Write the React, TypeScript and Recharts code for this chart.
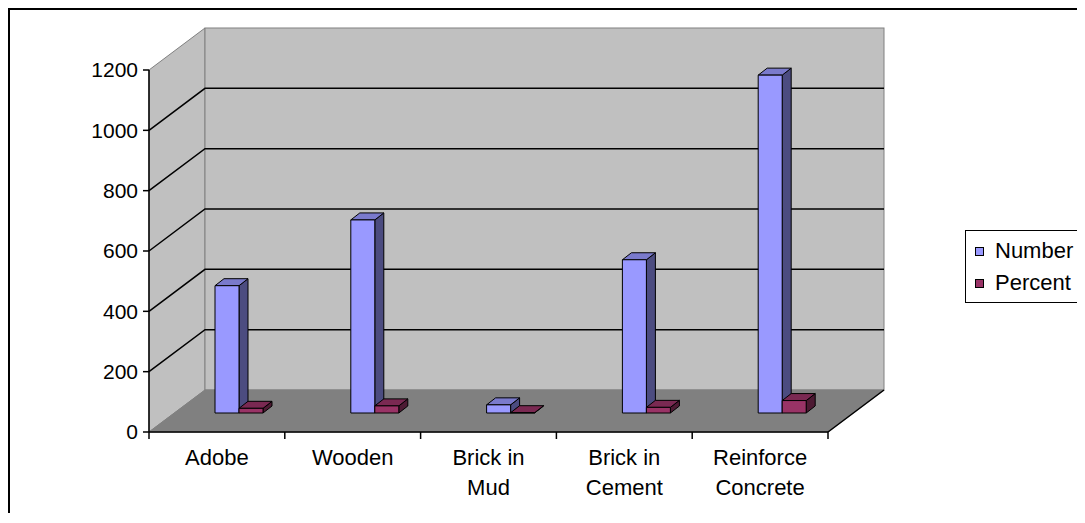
import React from "react";
import { BarChart, Bar, XAxis, YAxis, CartesianGrid } from "recharts";

// values
const categories = ["Adobe", "Wooden", "Brick in Mud", "Brick in Cement", "Reinforce Concrete"];
const tickLabels = [["Adobe"], ["Wooden"], ["Brick in", "Mud"], ["Brick in", "Cement"], ["Reinforce", "Concrete"]];
const numberValues = [422, 640, 27, 508, 1120];
const percentValues = [15.5, 23.6, 1.0, 18.7, 41.2];
const yTicks = [0, 200, 400, 600, 800, 1000, 1200];
const seriesNames = ["Number", "Percent"];

const data = categories.map((name, i) => ({
  name,
  Number: numberValues[i],
  Percent: percentValues[i],
}));

const FONT = "Arial, 'Liberation Sans', sans-serif";

// fake 3d: back wall depth, bar depth position and box depth
const WALL_DX = 56;
const WALL_DY = 42;
const BAR_DX = 22;
const BAR_DY = 19;
const BOX_DX = 9;
const BOX_DY = 7;

const faces: Record<string, { front: string; top: string; side: string }> = {
  Number: { front: "#9999FF", top: "#7A7ACC", side: "#4C4C80" },
  Percent: { front: "#993366", top: "#7A2952", side: "#4D1A33" },
};

function Box3D(props: any) {
  const { x, y, width, height, colors } = props;
  const h = Math.max(height || 0, 0);
  const fx = x + BAR_DX;
  const fy = y - BAR_DY;
  const fb = fy + h;
  const r = fx + width;
  return (
    <g stroke="#000" strokeWidth={1} strokeLinejoin="round">
      <polygon
        points={`${r},${fy} ${r + BOX_DX},${fy - BOX_DY} ${r + BOX_DX},${fb - BOX_DY} ${r},${fb}`}
        fill={colors.side}
      />
      <polygon
        points={`${fx},${fy} ${fx + BOX_DX},${fy - BOX_DY} ${r + BOX_DX},${fy - BOX_DY} ${r},${fy}`}
        fill={colors.top}
      />
      <rect x={fx} y={fy} width={width} height={h} fill={colors.front} />
    </g>
  );
}

function WallLine(props: any) {
  const { x1, x2, y1, index, horizontalPoints } = props;
  const pts: number[] = horizontalPoints || [];
  const top = props.y != null ? props.y : Math.min(...pts);
  const bottom = props.height != null ? props.y + props.height : Math.max(...pts);
  const isEdge = Math.abs(y1 - top) < 0.5 || Math.abs(y1 - bottom) < 0.5;
  return (
    <g>
      {index === 0 && (
        <g>
          <polygon
            points={`${x1},${bottom} ${x1},${top} ${x1 + WALL_DX},${top - WALL_DY} ${x1 + WALL_DX},${bottom - WALL_DY}`}
            fill="#C0C0C0"
            stroke="#808080"
          />
          <rect
            x={x1 + WALL_DX}
            y={top - WALL_DY}
            width={x2 - x1}
            height={bottom - top}
            fill="#C0C0C0"
            stroke="#808080"
          />
          <polygon
            points={`${x1},${bottom} ${x1 + WALL_DX},${bottom - WALL_DY} ${x2 + WALL_DX},${bottom - WALL_DY} ${x2},${bottom}`}
            fill="#808080"
            stroke="#808080"
          />
          <line x1={x2} y1={bottom} x2={x2 + WALL_DX} y2={bottom - WALL_DY} stroke="#000" strokeWidth={1.5} />
        </g>
      )}
      {!isEdge && (
        <polyline
          points={`${x1},${y1} ${x1 + WALL_DX},${y1 - WALL_DY} ${x2 + WALL_DX},${y1 - WALL_DY}`}
          fill="none"
          stroke="#000"
          strokeWidth={1.5}
        />
      )}
    </g>
  );
}

function CategoryTick(props: any) {
  const { x, y, payload, index } = props;
  const half = payload && payload.offset ? payload.offset : 0;
  const axisY = y - 6;
  const lines = tickLabels[index] || [String(payload.value)];
  return (
    <g>
      {index === 0 && <line x1={x - half} y1={axisY} x2={x - half} y2={axisY + 7} stroke="#000" strokeWidth={1.5} />}
      <line x1={x + half} y1={axisY} x2={x + half} y2={axisY + 7} stroke="#000" strokeWidth={1.5} />
      <text x={x} y={axisY + 33} textAnchor="middle" fontSize={22} fontFamily={FONT} fill="#000">
        {lines.map((l: string, i: number) => (
          <tspan key={i} x={x} dy={i === 0 ? 0 : 30}>
            {l}
          </tspan>
        ))}
      </text>
    </g>
  );
}

export default function App() {
  return (
    <div style={{ position: "relative", width: 1069, height: 505, fontFamily: FONT }}>
      <div style={{ position: "absolute", left: 0, top: 0, width: 1077, height: 2, background: "#000" }} />
      <div style={{ position: "absolute", left: 0, top: 0, width: 2, height: 515, background: "#000" }} />
      <BarChart
        width={1069}
        height={505}
        data={data}
        margin={{ top: 62, right: 249, bottom: 31, left: 81 }}
        barSize={24}
        barGap={0}
      >
        <CartesianGrid vertical={false} horizontal={(p: any) => <WallLine {...p} />} />
        <XAxis
          dataKey="name"
          height={50}
          interval={0}
          tickLine={false}
          tickSize={6}
          tickMargin={0}
          axisLine={{ stroke: "#000", strokeWidth: 1.5 }}
          tick={(p: any) => <CategoryTick {...p} />}
        />
        <YAxis
          width={60}
          domain={[0, 1200]}
          ticks={yTicks}
          interval={0}
          tickSize={6}
          tickMargin={5}
          axisLine={{ stroke: "#000", strokeWidth: 1.5 }}
          tickLine={{ stroke: "#000", strokeWidth: 1.5 }}
          tick={{ fill: "#000", fontSize: 21, fontFamily: FONT }}
        />
        <Bar dataKey="Number" isAnimationActive={false} shape={(p: any) => <Box3D {...p} colors={faces.Number} />} />
        <Bar dataKey="Percent" isAnimationActive={false} shape={(p: any) => <Box3D {...p} colors={faces.Percent} />} />
      </BarChart>
      <div
        style={{
          position: "absolute",
          left: 957,
          top: 222,
          width: 118,
          height: 73,
          border: "1px solid #000",
          boxSizing: "border-box",
          background: "#fff",
          fontSize: 22,
          lineHeight: "24px",
        }}
      >
        {seriesNames.map((s, i) => (
          <div key={s} style={{ position: "absolute", left: 0, top: 8 + i * 32, height: 24, width: 116 }}>
            <div
              style={{
                position: "absolute",
                left: 9,
                top: 8,
                width: 9,
                height: 9,
                boxSizing: "border-box",
                border: "1px solid #000",
                background: faces[s].front,
              }}
            />
            <span style={{ position: "absolute", left: 29, top: 0 }}>{s}</span>
          </div>
        ))}
      </div>
    </div>
  );
}
